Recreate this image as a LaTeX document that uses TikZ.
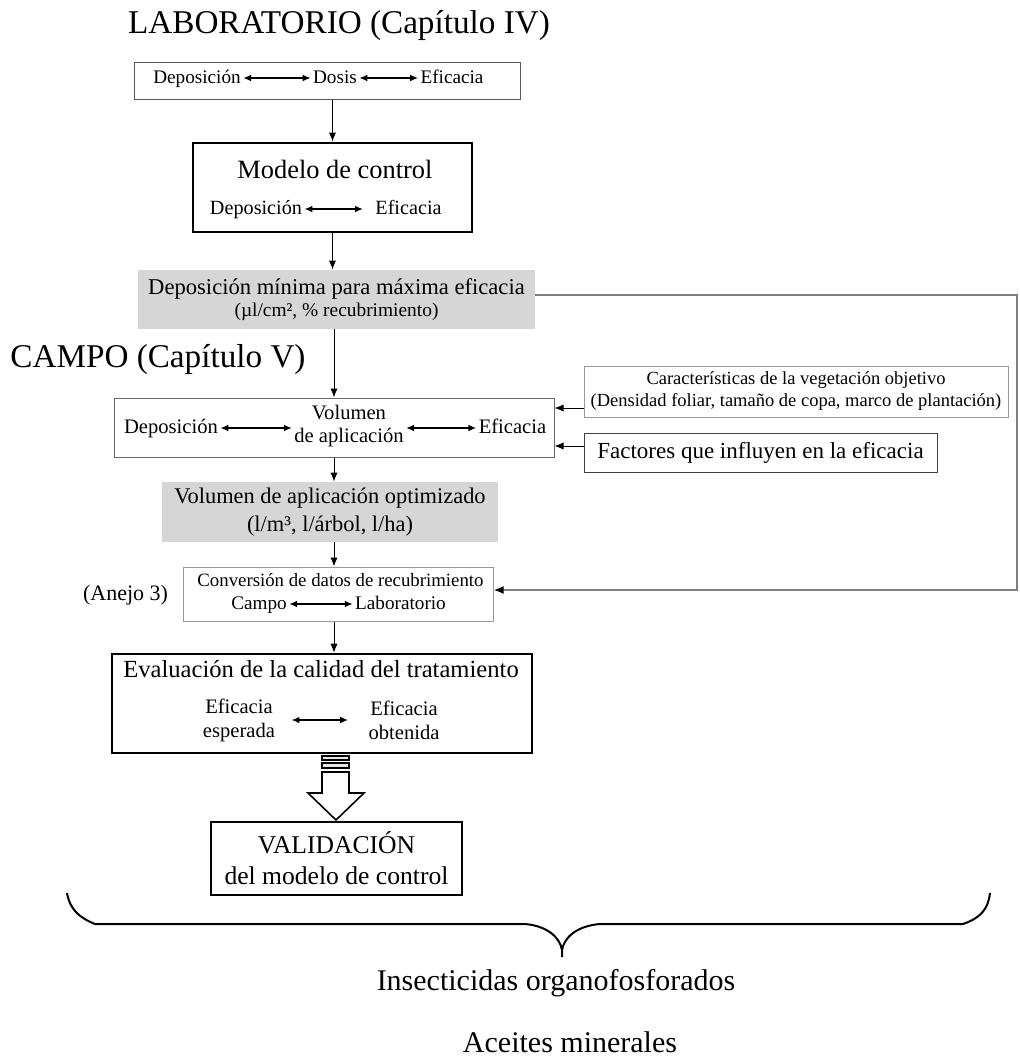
\documentclass[tikz,border=0pt]{standalone}
\usepackage{fontspec}
\setmainfont{Liberation Serif}
\usetikzlibrary{arrows.meta}

\begin{document}
\begin{tikzpicture}[x=0.5pt, y=-0.5pt, every node/.style={inner sep=1pt},
  box/.style={draw=black!65, line width=0.5pt, inner sep=0pt},
  bbox/.style={draw, line width=1.4pt, inner sep=0pt},
  shade/.style={fill=black!16, inner sep=0pt},
  wd/.style={inner sep=1pt, text height=0.7em, text depth=0.2em, anchor=base},
  arr/.style={-{Latex[length=4.5pt,width=3.6pt]}, line width=0.5pt},
  dbl/.style={{Latex[length=4pt,width=3.4pt]}-{Latex[length=4pt,width=3.4pt]}, line width=0.8pt}]
\useasboundingbox (0,0) rectangle (1020,1061);
\node[anchor=base, font={\fontsize{16.6}{20}\selectfont}] (T1) at (339,33) {LABORATORIO (Capítulo IV)};
\node[box, minimum width=193pt, minimum height=18.5pt] (A) at (327,80.5) {};
\node[wd, font={\fontsize{9.6}{11}\selectfont}] (A1) at (197,83) {Deposición};
\node[wd, font={\fontsize{9.6}{11}\selectfont}] (A2) at (335,83) {Dosis};
\node[wd, font={\fontsize{9.6}{11}\selectfont}] (A3) at (452,83) {Eficacia};
\draw[dbl] (A1.east) -- (A2.west);
\draw[dbl] (A2.east) -- (A3.west);
\node[bbox, minimum width=139.5pt, minimum height=44.5pt] (B) at (332.5,187.5) {};
\node[anchor=base, font={\fontsize{13.2}{15}\selectfont}] (B1) at (335,178) {Modelo de control};
\node[wd, font={\fontsize{10.1}{12}\selectfont}] (B2) at (256,214) {Deposición};
\node[wd, font={\fontsize{10.1}{12}\selectfont}] (B3) at (408.5,214) {Eficacia};
\draw[dbl, shorten >=5pt] (B2.east) -- (B3.west);
\draw[arr] (B.north |- A.south) -- (B.north);
\node[shade, minimum width=198.5pt, minimum height=29.5pt, align=center, font={\fontsize{11.3}{11}\selectfont}] (C) at (336.5,299.5) {Deposición mínima para máxima eficacia\\{\fontsize{9.7}{11}\selectfont (µl/cm², \% recubrimiento)}};
\draw[arr] (B.south) -- (B.south |- C.north);
\node[anchor=base, font={\fontsize{16.6}{20}\selectfont}] (T2) at (158,367) {CAMPO (Capítulo V)};
\node[box, draw=black!60, minimum width=220pt, minimum height=29.5pt] (D) at (334,427.5) {};
\node[wd, font={\fontsize{10.3}{12}\selectfont}] (D1) at (171,433) {Deposición};
\node[align=center, font={\fontsize{10.3}{11.5}\selectfont}] (D2) at (349,426.5) {Volumen\\de aplicación};
\node[wd, font={\fontsize{10.3}{12}\selectfont}] (D3) at (512.5,433) {Eficacia};
\draw[dbl] (D1.east) -- (D1.east -| D2.west);
\draw[dbl] (D3.west) -- (D3.west -| D2.east);
\draw[arr] (D.north |- C.south) -- (D.north);
\node[box, draw=black!40, minimum width=212pt, minimum height=25.5pt, align=center, font={\fontsize{9.25}{11}\selectfont}] (E) at (796,391.5) {Características de la vegetación objetivo\\(Densidad foliar, tamaño de copa, marco de plantación)};
\node[box, draw=black!75, minimum width=176.5pt, minimum height=19.5pt, font={\fontsize{11.5}{13}\selectfont}] (F) at (760.5,452.5) {Factores que influyen en la eficacia};
\coordinate (P1) at (584,408);
\coordinate (P2) at (584,446);
\draw[arr] (P1) -- (P1 -| D.east);
\draw[arr] (P2) -- (P2 -| D.east);
\node[shade, minimum width=168pt, minimum height=30pt, align=center, font={\fontsize{11.2}{14}\selectfont}] (G) at (330,512) {Volumen de aplicación optimizado\\(l/m³, l/árbol, l/ha)};
\draw[arr] (D.south) -- (D.south |- G.north);
\node[box, draw=black!40, minimum width=155pt, minimum height=27pt] (H) at (338,594) {};
\node[anchor=base, font={\fontsize{9.4}{11}\selectfont}] (H1) at (340.5,586) {Conversión de datos de recubrimiento};
\node[wd, font={\fontsize{9.6}{11}\selectfont}] (H2) at (259,609) {Campo};
\node[wd, font={\fontsize{9.6}{11}\selectfont}] (H3) at (400.5,609) {Laboratorio};
\draw[dbl] (H2.east) -- (H3.west);
\draw[arr] (D.south |- G.south) -- (D.south |- H.north);
\node[anchor=base, font={\fontsize{11}{13}\selectfont}] (T3) at (125.5,600) {(Anejo 3)};
\coordinate (P3) at (1017,295);
\coordinate (P4) at (1017,590);
\draw[-{Latex[length=5pt,width=4pt,color=black]}, draw=black!50, line width=1pt] (P3 -| C.east) -- (P3) -- (P4) -- (P4 -| H.east);
\node[bbox, line width=1.3pt, minimum width=210pt, minimum height=49.5pt] (I) at (322,703.5) {};
\node[anchor=base, font={\fontsize{12.3}{14}\selectfont}] (I1) at (321,677) {Evaluación de la calidad del tratamiento};
\node[align=center, font={\fontsize{10.3}{12}\selectfont}] (I2) at (239,720) {Eficacia\\esperada};
\node[align=center, font={\fontsize{10.3}{12}\selectfont}] (I3) at (404,720) {Eficacia\\obtenida};
\draw[dbl, shorten <=7pt, shorten >=9pt] (I2) -- (I3);
\draw[arr] (D.south |- H.south) -- (D.south |- I.north);
\draw[line width=0.8pt, fill=black!10] (322,756) rectangle (349,760) (322,763) rectangle (349,768);
\draw[line width=0.8pt, fill=white] (322,772) -- (349,772) -- (349,793) -- (364,793) -- (336,820) -- (308,793) -- (322,793) -- cycle;
\node[bbox, line width=1.1pt, minimum width=125.5pt, minimum height=36.5pt, align=center, font={\fontsize{12.8}{15.5}\selectfont}] (J) at (336.5,858.5) {VALIDACIÓN\\del modelo de control};
\draw[line width=1pt] (67,893) .. controls (70,910) and (80,918) .. (95,924) -- (525,924) .. controls (548,926) and (560,938) .. (562,950) -- (562,957);
\draw[line width=1pt] (562,950) .. controls (564,938) and (576,926) .. (600,924) -- (963,924) .. controls (980,918) and (988,910) .. (990,893);
\node[anchor=base, font={\fontsize{15}{18}\selectfont}] (T4) at (556,990) {Insecticidas organofosforados};
\node[anchor=base, font={\fontsize{15}{18}\selectfont}] (T5) at (570,1052) {Aceites minerales};
\end{tikzpicture}
\end{document}
